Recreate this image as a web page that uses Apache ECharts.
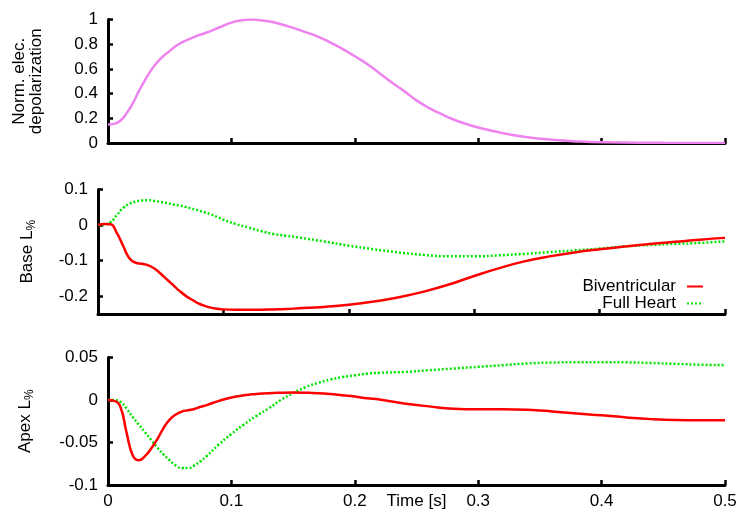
<!DOCTYPE html>
<html>
<head>
<meta charset="utf-8">
<script src="https://cdn.jsdelivr.net/npm/echarts@6/dist/echarts.min.js"></script>
<style>
  html, body { margin: 0; padding: 0; background: #fff; }
  #chart { width: 737px; height: 509px; }
</style>
</head>
<body>
<div id="chart"></div>
<script>
// Normalised electrical depolarization (top panel)
const depolTime = [0, 0.005, 0.01, 0.015, 0.02, 0.025, 0.03, 0.035, 0.04, 0.045, 0.05, 0.055, 0.06, 0.07, 0.08, 0.09, 0.10, 0.11, 0.115, 0.12, 0.13, 0.14, 0.15, 0.16, 0.17, 0.18, 0.19, 0.20, 0.21, 0.22, 0.23, 0.24, 0.25, 0.26, 0.27, 0.28, 0.29, 0.30, 0.32, 0.34, 0.36, 0.38, 0.40, 0.45, 0.50];
const depolValue = [0.15, 0.155, 0.18, 0.24, 0.32, 0.42, 0.51, 0.59, 0.655, 0.705, 0.745, 0.785, 0.815, 0.86, 0.895, 0.935, 0.975, 0.996, 1.0, 0.998, 0.985, 0.962, 0.932, 0.898, 0.862, 0.815, 0.762, 0.702, 0.64, 0.565, 0.49, 0.42, 0.345, 0.285, 0.235, 0.19, 0.155, 0.125, 0.08, 0.047, 0.026, 0.013, 0.006, 0.002, 0];

// Base strain (middle panel)
const baseTime = [0, 0.005, 0.01, 0.015, 0.02, 0.025, 0.03, 0.035, 0.04, 0.045, 0.05, 0.055, 0.06, 0.065, 0.07, 0.075, 0.08, 0.085, 0.09, 0.095, 0.10, 0.11, 0.12, 0.13, 0.14, 0.15, 0.16, 0.18, 0.20, 0.22, 0.24, 0.26, 0.28, 0.30, 0.32, 0.34, 0.36, 0.38, 0.40, 0.42, 0.44, 0.46, 0.48, 0.50];
const baseBiventricular = [0, 0.003, 0.002, -0.022, -0.058, -0.093, -0.106, -0.109, -0.113, -0.122, -0.137, -0.153, -0.169, -0.185, -0.199, -0.21, -0.22, -0.227, -0.232, -0.235, -0.237, -0.238, -0.238, -0.238, -0.237, -0.236, -0.234, -0.23, -0.224, -0.215, -0.203, -0.187, -0.167, -0.143, -0.121, -0.102, -0.088, -0.077, -0.068, -0.06, -0.053, -0.047, -0.041, -0.036];
const baseFullHeart = [0, 0.002, 0.008, 0.028, 0.048, 0.06, 0.066, 0.069, 0.07, 0.068, 0.065, 0.062, 0.058, 0.055, 0.051, 0.046, 0.041, 0.036, 0.03, 0.023, 0.015, 0.003, -0.007, -0.017, -0.025, -0.03, -0.035, -0.046, -0.058, -0.068, -0.077, -0.084, -0.088, -0.088, -0.085, -0.081, -0.076, -0.071, -0.066, -0.06, -0.056, -0.053, -0.05, -0.046];

// Apex strain (bottom panel)
const apexTime = [0, 0.005, 0.01, 0.015, 0.02, 0.025, 0.03, 0.035, 0.04, 0.045, 0.05, 0.055, 0.06, 0.065, 0.07, 0.075, 0.08, 0.09, 0.10, 0.11, 0.12, 0.13, 0.14, 0.15, 0.16, 0.17, 0.18, 0.19, 0.20, 0.21, 0.22, 0.24, 0.26, 0.28, 0.30, 0.32, 0.34, 0.36, 0.38, 0.40, 0.42, 0.44, 0.46, 0.48, 0.50];
const apexBiventricular = [0, -0.001, -0.008, -0.038, -0.065, -0.071, -0.066, -0.057, -0.046, -0.033, -0.023, -0.017, -0.0135, -0.012, -0.0105, -0.008, -0.006, -0.001, 0.003, 0.0055, 0.007, 0.008, 0.0085, 0.0087, 0.0085, 0.008, 0.007, 0.0055, 0.004, 0.002, 0.0005, -0.004, -0.0075, -0.0103, -0.011, -0.0108, -0.0115, -0.0135, -0.016, -0.018, -0.0205, -0.0225, -0.0235, -0.0237, -0.0237];
const apexFullHeart = [0, 0.0, -0.002, -0.01, -0.02, -0.029, -0.038, -0.047, -0.056, -0.064, -0.071, -0.077, -0.08, -0.08, -0.077, -0.072, -0.066, -0.052, -0.04, -0.029, -0.019, -0.01, 0.0, 0.008, 0.015, 0.02, 0.024, 0.027, 0.029, 0.031, 0.032, 0.033, 0.035, 0.037, 0.039, 0.041, 0.043, 0.044, 0.0445, 0.0445, 0.0443, 0.0435, 0.0425, 0.0415, 0.041];

// Axis ticks
const timeTicks = { min: 0, max: 0.5, step: 0.1 };
const depolTicks = [0, 0.2, 0.4, 0.6, 0.8, 1];
const baseTicks = [-0.2, -0.1, 0, 0.1];
const apexTicks = [-0.1, -0.05, 0, 0.05];

const FONT = 'Liberation Sans, Arial, Helvetica, sans-serif';
const zip = (xs, ys) => xs.map((x, i) => [x, ys[i]]);

const axisLine = { show: true, onZero: false, lineStyle: { color: '#000', width: 3 } };
const axisTick = { show: true, inside: true, length: 5, lineStyle: { color: '#000', width: 2.5 } };
const labelStyle = { color: '#000', fontSize: 17, fontFamily: FONT };

function xAxis(gridIndex, showLabels) {
  const ax = {
    type: 'value', gridIndex,
    min: timeTicks.min, max: timeTicks.max, interval: timeTicks.step,
    splitLine: { show: false },
    axisLine, axisTick,
    axisLabel: Object.assign({ show: showLabels, margin: 8 }, labelStyle)
  };
  if (showLabels) {
    ax.name = 'Time [s]';
    ax.nameLocation = 'middle';
    ax.nameGap = 8;
    ax.nameMoveOverlap = false;
    ax.nameTextStyle = { color: '#000', fontSize: 17, fontFamily: FONT, verticalAlign: 'top' };
  }
  return ax;
}

function yAxis(gridIndex, ticks, min, max, name, nameGap) {
  return {
    type: 'value', gridIndex, min, max,
    splitLine: { show: false },
    axisLine,
    axisTick: Object.assign({ customValues: ticks }, axisTick),
    axisLabel: Object.assign({ customValues: ticks, margin: 10 }, labelStyle),
    name, nameLocation: 'middle', nameGap, nameRotate: 90, nameMoveOverlap: false,
    nameTextStyle: {
      color: '#000', fontSize: 17, fontFamily: FONT, lineHeight: 17,
      rich: { sub: { fontSize: 12, fontFamily: FONT, color: '#000', padding: [9, 0, 0, 0] } }
    }
  };
}

const lineCommon = { type: 'line', showSymbol: false, symbol: 'none', smooth: 0.5, animation: false };
const solidRed = { color: '#ff0000', width: 2.5 };
const dottedGreen = { color: '#00e600', width: 2.5, type: [2, 2] };

const chart = echarts.init(document.getElementById('chart'), null, { renderer: 'canvas' });
chart.setOption({
  backgroundColor: '#fff',
  animation: false,
  textStyle: { fontFamily: FONT },
  grid: [
    { left: 108, top: 19.5, width: 617, height: 123.5, outerBoundsMode: 'none' },
    { left: 98, top: 189.5, width: 627, height: 124.5, outerBoundsMode: 'none' },
    { left: 108, top: 357.5, width: 617, height: 127.5, outerBoundsMode: 'none' }
  ],
  xAxis: [xAxis(0, false), xAxis(1, false), xAxis(2, true)],
  yAxis: [
    yAxis(0, depolTicks, 0, 1, 'Norm. elec.\ndepolarization', 63),
    yAxis(1, baseTicks, -0.25, 0.1, 'Base L{sub|%}', 62),
    yAxis(2, apexTicks, -0.1, 0.05, 'Apex L{sub|%}', 74)
  ],
  legend: {
    data: ['Biventricular', 'Full Heart'],
    orient: 'vertical', align: 'right',
    right: 28, top: 273,
    itemWidth: 16, itemHeight: 10, itemGap: 0,
    itemStyle: { opacity: 0 },
    textStyle: { color: '#000', fontSize: 17, fontFamily: FONT, lineHeight: 17, padding: [0, 6, 0, 0] }
  },
  series: [
    Object.assign({ name: 'Depolarization', xAxisIndex: 0, yAxisIndex: 0, data: zip(depolTime, depolValue),
      lineStyle: { color: '#ee82ee', width: 2.5 }, itemStyle: { color: '#ee82ee' } }, lineCommon),
    Object.assign({ name: 'Full Heart', xAxisIndex: 1, yAxisIndex: 1, data: zip(baseTime, baseFullHeart),
      lineStyle: dottedGreen, itemStyle: { color: '#00e600' } }, lineCommon),
    Object.assign({ name: 'Biventricular', xAxisIndex: 1, yAxisIndex: 1, data: zip(baseTime, baseBiventricular),
      lineStyle: solidRed, itemStyle: { color: '#ff0000' } }, lineCommon),
    Object.assign({ name: 'Full Heart', xAxisIndex: 2, yAxisIndex: 2, data: zip(apexTime, apexFullHeart),
      lineStyle: dottedGreen, itemStyle: { color: '#00e600' } }, lineCommon),
    Object.assign({ name: 'Biventricular', xAxisIndex: 2, yAxisIndex: 2, data: zip(apexTime, apexBiventricular),
      lineStyle: solidRed, itemStyle: { color: '#ff0000' } }, lineCommon)
  ]
});
</script>
</body>
</html>
